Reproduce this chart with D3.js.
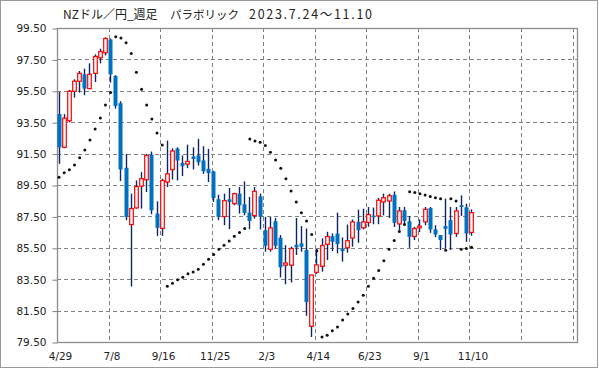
<!DOCTYPE html>
<html><head><meta charset="utf-8">
<script src="https://cdn.jsdelivr.net/npm/d3@7"></script>
<style>html,body{margin:0;padding:0;background:#fff;}svg{display:block;}</style>
</head><body>
<script>
const titleParts = ["NZドル／円_週足", "パラボリック", "2023.7.24～11.10"];
const tickLabels = ["4/29","7/8","9/16","11/25","2/3","4/14","6/23","9/1","11/10"];
const yTicks = [79.5,81.5,83.5,85.5,87.5,89.5,91.5,93.5,95.5,97.5,99.5];
const openV = [94.02,91.90,93.59,95.47,96.11,96.55,95.64,96.61,97.60,97.92,98.77,96.44,94.71,90.60,86.98,88.04,89.43,89.83,91.44,87.68,86.73,89.69,90.47,91.82,90.91,90.83,91.31,91.38,91.06,90.53,90.36,88.59,87.49,88.59,88.31,88.95,88.27,87.74,87.55,88.78,86.62,85.40,87.19,86.14,84.39,84.39,85.69,85.78,85.36,80.50,83.94,84.32,85.72,86.24,86.41,85.46,85.50,86.12,87.15,86.77,87.11,87.55,87.53,88.42,88.48,88.88,87.02,87.89,87.19,86.22,86.77,87.15,88.04,86.67,86.31,86.88,87.26,86.41,88.21,88.08,86.48];
const highV = [95.43,94.02,95.56,96.23,96.76,96.91,97.25,97.82,98.18,98.91,98.83,96.50,94.84,91.48,88.95,89.79,90.32,91.48,91.63,88.46,89.90,92.33,91.84,91.90,91.38,92.07,91.90,92.44,91.97,91.80,90.40,88.88,88.95,89.31,89.01,89.37,89.73,88.74,89.37,88.95,87.47,87.47,87.40,86.31,85.67,85.57,87.40,86.88,86.73,83.77,85.42,86.10,86.52,86.41,87.74,86.16,86.98,87.30,87.93,87.99,88.10,88.06,88.67,88.95,88.95,89.09,88.10,88.10,87.53,86.83,87.30,88.10,88.10,86.94,86.31,88.63,88.10,88.10,88.84,88.31,87.95];
const lowV = [90.85,91.84,93.49,95.07,95.39,95.22,95.60,96.06,97.25,97.75,96.02,94.37,89.75,87.26,83.03,88.00,88.00,89.05,87.64,86.26,86.26,89.37,89.85,89.79,90.07,90.57,90.49,90.74,90.21,89.69,88.42,87.26,86.94,86.69,88.21,87.68,87.57,86.69,87.36,86.67,85.25,85.25,85.46,83.62,83.18,83.29,85.04,85.25,81.17,79.82,83.84,83.98,84.72,85.29,85.15,84.62,85.19,85.57,85.82,86.67,86.84,87.00,87.00,87.57,87.40,86.83,86.62,86.98,85.50,85.99,86.50,86.94,86.45,86.18,85.36,85.46,85.36,86.20,87.53,85.88,86.27];
const closeV = [91.90,93.76,95.47,96.11,96.61,95.64,96.55,97.69,98.00,98.83,96.55,94.54,90.49,87.47,88.00,89.39,89.90,91.38,87.89,86.77,89.79,90.21,91.67,91.06,90.70,91.00,91.16,90.95,90.38,90.26,88.67,87.47,88.50,88.42,88.95,88.21,87.72,87.21,89.10,87.47,85.63,86.77,85.63,84.26,84.53,85.46,85.53,85.57,82.04,83.77,84.41,85.65,86.22,85.88,85.74,85.29,85.95,87.15,86.62,87.15,87.62,87.47,88.53,88.69,88.82,87.09,87.85,87.21,86.20,86.73,86.88,87.95,86.67,86.35,85.99,86.71,86.35,87.85,88.10,86.41,87.74];
const sarV = [90.00,90.28,90.47,90.78,91.23,91.73,92.37,93.07,93.76,94.59,95.39,98.95,98.87,98.56,97.88,96.68,95.60,94.59,93.70,92.81,92.05,83.05,83.24,83.46,83.62,83.84,83.96,84.13,84.45,84.77,85.08,85.40,85.67,85.93,86.24,86.48,86.73,92.43,92.30,92.22,92.01,91.59,91.10,90.57,89.90,89.12,88.42,87.74,87.21,86.35,85.31,79.82,79.93,80.22,80.46,80.90,81.28,81.64,82.04,82.48,83.05,83.56,84.05,84.68,85.40,85.97,86.54,86.98,89.07,89.03,88.95,88.86,88.76,88.69,88.63,85.34,88.63,88.48,85.40,85.46,85.53];

const W = 599, H = 369;
const L = 57, R = 577, T = 28, B = 342;
const svg = d3.select("body").append("svg").attr("width", W).attr("height", H);
svg.append("rect").attr("x",0.5).attr("y",0.5).attr("width",W-2).attr("height",H-2)
  .attr("fill","#fff").attr("stroke","#9a9a9a");

const x = d3.scaleLinear().domain([0, 100]).range([L, 572.6]);
const y = d3.scaleLinear().domain([79.5, 99.5]).range([B, T]);
const font = "'DejaVu Sans', Verdana, sans-serif";

// grid
const g = svg.append("g");
g.selectAll(".hg").data(yTicks.slice(1,-1)).enter().append("line")
  .attr("x1", L).attr("x2", R).attr("y1", d => Math.round(y(d))+0.5).attr("y2", d => Math.round(y(d))+0.5)
  .attr("stroke","#808080").attr("stroke-dasharray","4,3");
const vt = d3.range(10, 101, 10);
g.selectAll(".vg").data(vt).enter().append("line")
  .attr("x1", d => Math.round(x(d))+0.5).attr("x2", d => Math.round(x(d))+0.5).attr("y1", T).attr("y2", B)
  .attr("stroke","#808080").attr("stroke-dasharray","4,3");

// axes
const yAxis = d3.axisLeft(y).tickValues(yTicks).tickFormat(d3.format(".2f")).tickSize(5).tickPadding(6);
const ya = svg.append("g").attr("transform", `translate(${L+0.5},0.5)`).call(yAxis);
ya.select(".domain").remove();
ya.selectAll("line").attr("stroke","#808080");
ya.selectAll("text").attr("font-family", font).attr("font-size","10.5px").attr("fill","#222");

const xAxis = d3.axisBottom(x).tickValues(d3.range(0, 81, 10)).tickFormat((d,i) => tickLabels[i]).tickSize(0).tickPadding(10);
const xa = svg.append("g").attr("transform", `translate(3,${B+1})`).call(xAxis);
xa.select(".domain").remove();
xa.selectAll("text").attr("font-family", font).attr("font-size","10.5px").attr("fill","#222");

// plot frame
svg.append("rect").attr("x", L+0.5).attr("y", T+0.5).attr("width", R-L).attr("height", B-T)
  .attr("fill","none").attr("stroke","#8c8c8c").attr("stroke-width",1.3);

// candles
const idx = d3.range(openV.length);
const cx = i => x(i + 0.3);
const cg = svg.append("g");
cg.selectAll(".wick").data(idx).enter().append("line")
  .attr("x1", i => Math.round(cx(i))+0.5).attr("x2", i => Math.round(cx(i))+0.5)
  .attr("y1", i => y(highV[i])).attr("y2", i => y(lowV[i]))
  .attr("stroke","#0d2466").attr("stroke-width",1.4);
cg.selectAll(".body").data(idx).enter().append("rect")
  .attr("x", i => closeV[i] >= openV[i] ? Math.round(cx(i))-1.3 : Math.round(cx(i))-1.5)
  .attr("width", i => closeV[i] >= openV[i] ? 3.6 : 4)
  .attr("y", i => y(Math.max(openV[i], closeV[i])))
  .attr("height", i => Math.max(1.5, Math.abs(y(openV[i]) - y(closeV[i]))))
  .attr("fill", i => closeV[i] >= openV[i] ? "#fff" : "#0070c0")
  .attr("stroke", i => closeV[i] >= openV[i] ? "#ff0000" : "none")
  .attr("stroke-width", 1.2);

// SAR
svg.append("g").selectAll("circle").data(idx).enter().append("circle")
  .attr("cx", i => cx(i)+0.5).attr("cy", i => y(sarV[i])).attr("r", 1.5).attr("fill","#111");

// title
const tf = "'Noto Sans CJK JP', sans-serif";
svg.append("text").attr("x", 63).attr("y", 19).text(titleParts[0])
  .attr("font-family", tf).attr("font-size","12px").attr("fill","#222");
svg.append("text").attr("x", 170).attr("y", 19).text(titleParts[1])
  .attr("font-family", tf).attr("font-size","11.5px").attr("fill","#222");
svg.append("text").attr("x", 249).attr("y", 19).text(titleParts[2])
  .attr("font-family", tf).attr("font-size","12.5px").attr("fill","#222")
  .attr("textLength", 123).attr("lengthAdjust", "spacing");
</script>
</body></html>
